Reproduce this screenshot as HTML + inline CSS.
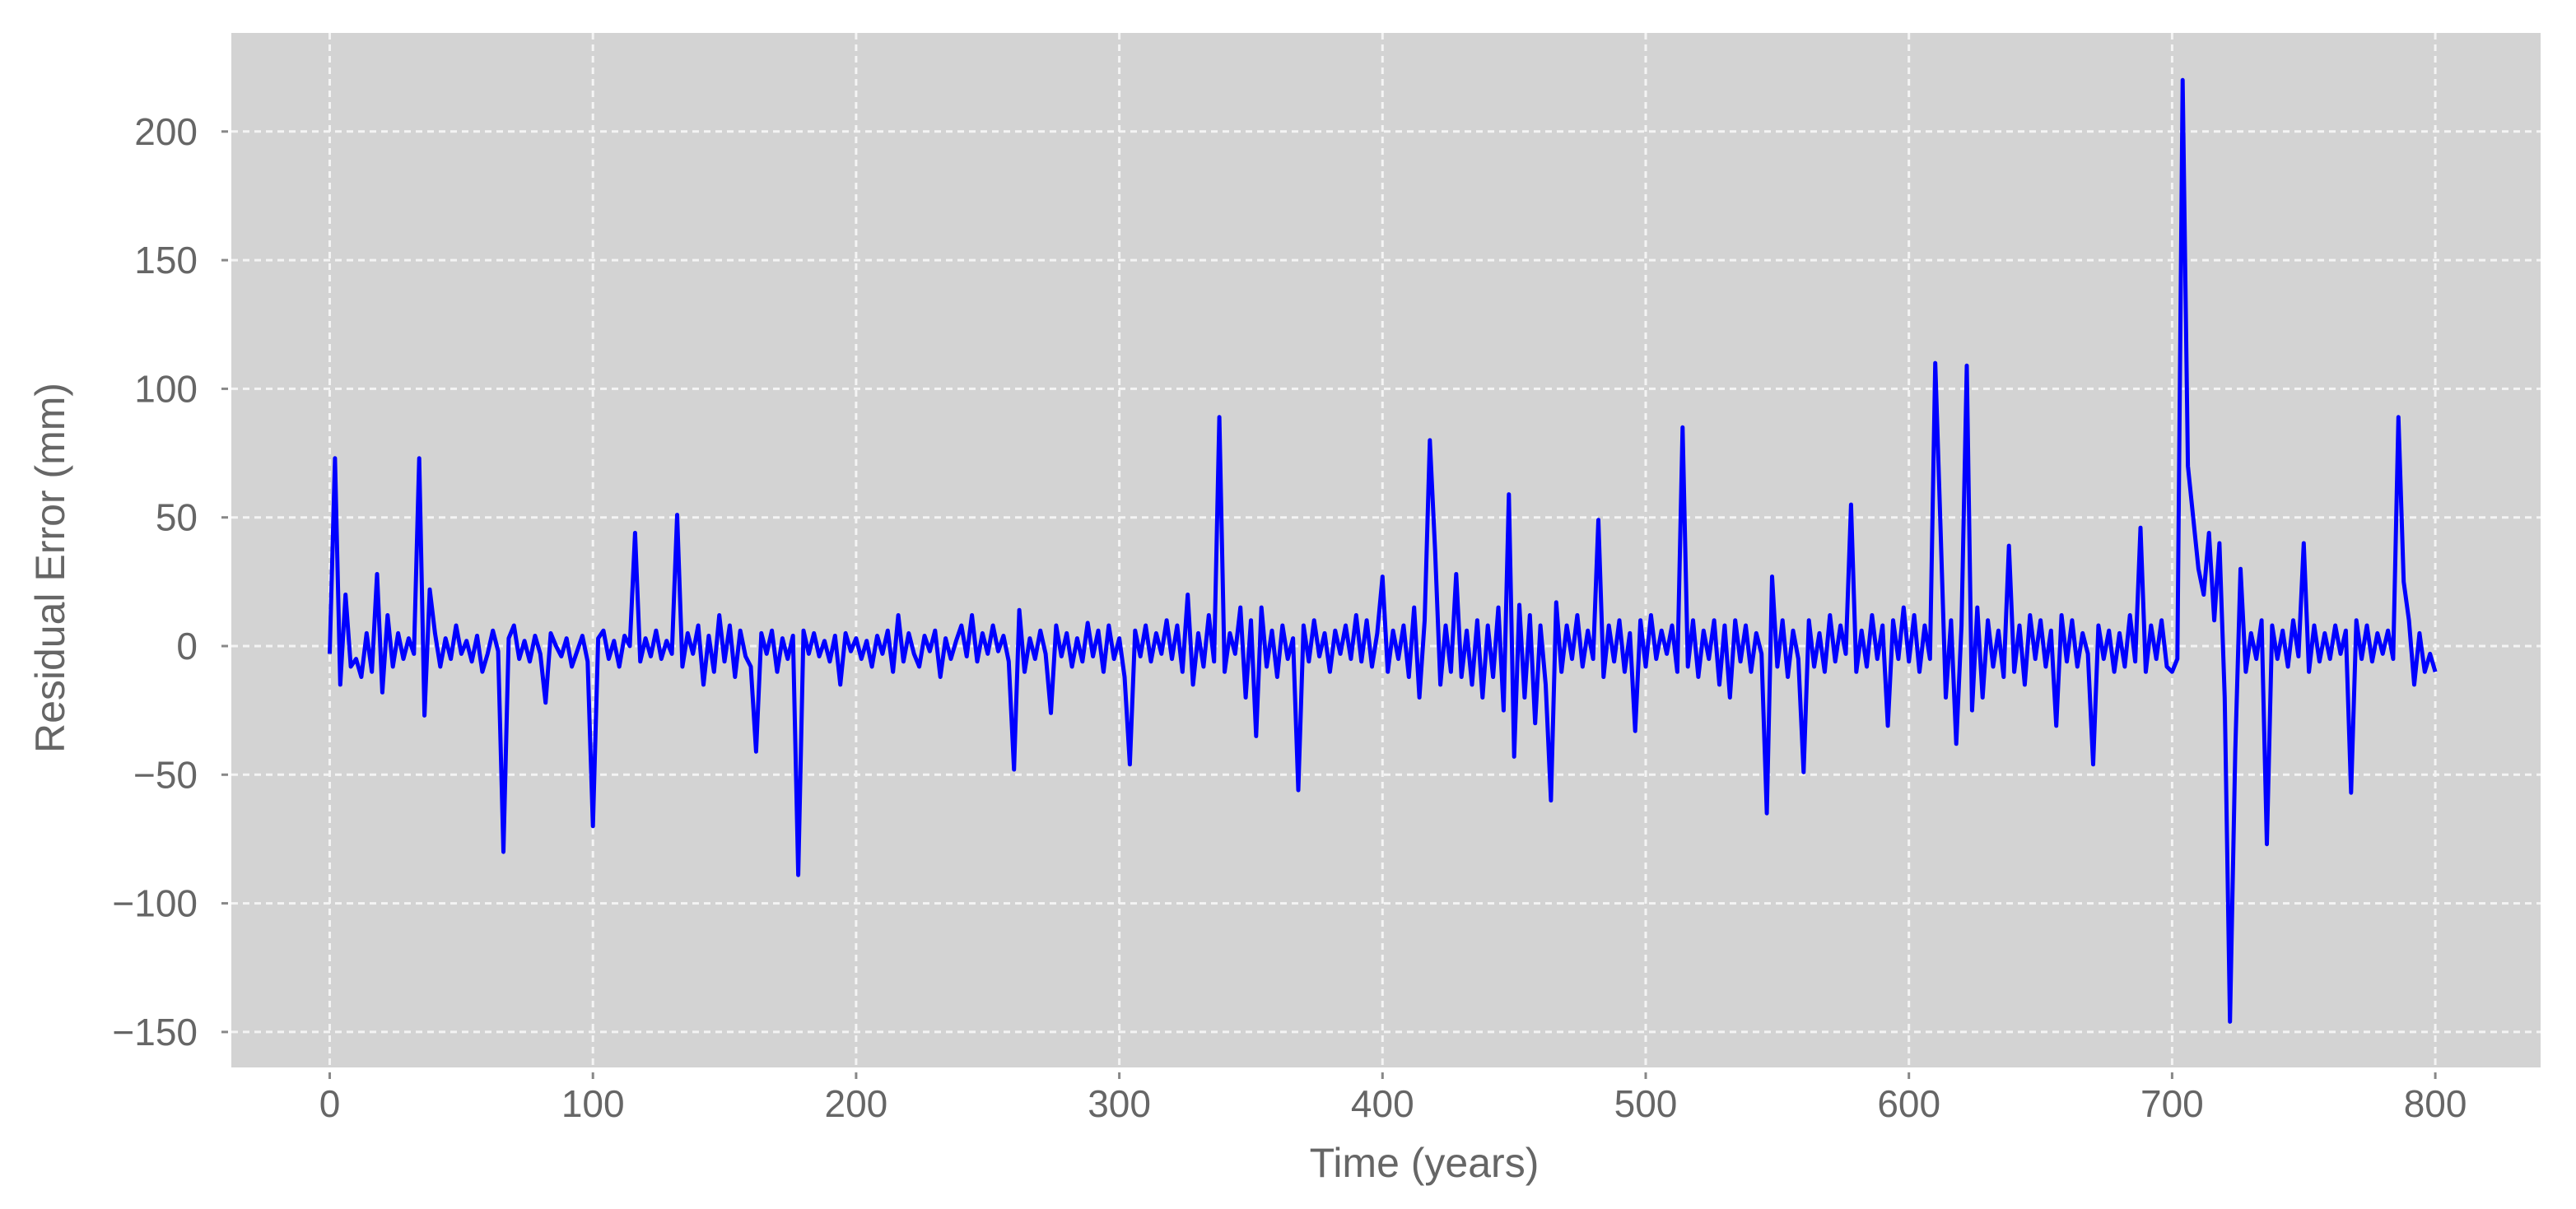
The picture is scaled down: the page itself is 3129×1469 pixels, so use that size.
<!DOCTYPE html>
<html><head><meta charset="utf-8"><style>
html,body{margin:0;padding:0;background:#fff;}
svg{display:block;}
text{font-family:"Liberation Sans",sans-serif;fill:#666;}
</style></head><body>
<svg id="chart" width="3129" height="1469" viewBox="0 0 3129 1469" xmlns="http://www.w3.org/2000/svg">
<rect x="281" y="40" width="2805" height="1257" fill="#d3d3d3"/>
<g id="grid"></g>
<g id="ticks"></g>
<path id="series" fill="none" stroke="#0000ff" stroke-width="5" stroke-linejoin="round"/>
<text x="1730" y="1430" font-size="50" text-anchor="middle">Time (years)</text>
<text transform="translate(78,690) rotate(-90)" font-size="50" text-anchor="middle">Residual Error (mm)</text>
</svg>
<script>
const xTicks = [0,100,200,300,400,500,600,700,800];
const yTicks = [-150,-100,-50,0,50,100,150,200];
const yTickLabels = ["\u2212150","\u2212100","\u221250","0","50","100","150","200"];
const yearStep = 2;
const residuals = [
-3,73,-15,20,-8,-5,-12,5,-10,28,-18,12,-8,5,-5,3,-3,73,-27,22,
5,-8,3,-5,8,-3,2,-6,4,-10,-3,6,-2,-80,3,8,-5,2,-6,4,
-3,-22,5,0,-4,3,-8,-2,4,-6,-70,3,6,-5,2,-8,4,0,44,-6,
3,-4,6,-5,2,-3,51,-8,5,-3,8,-15,4,-10,12,-6,8,-12,6,-4,
-8,-41,5,-3,6,-10,3,-5,4,-89,6,-3,5,-4,2,-6,4,-15,5,-2,
3,-5,2,-8,4,-3,6,-10,12,-6,5,-3,-8,4,-2,6,-12,3,-5,2,
8,-4,12,-6,5,-3,8,-2,4,-6,-48,14,-10,3,-5,6,-3,-26,8,-4,
5,-8,3,-6,9,-4,6,-10,8,-5,3,-12,-46,6,-4,8,-6,5,-3,10,
-5,8,-10,20,-15,5,-8,12,-6,89,-10,5,-3,15,-20,10,-35,15,-8,6,
-12,8,-5,3,-56,8,-6,10,-4,5,-10,6,-3,8,-5,12,-6,10,-8,5,
27,-10,6,-5,8,-12,15,-20,10,80,37,-15,8,-10,28,-12,6,-15,10,-20,
8,-12,15,-25,59,-43,16,-20,12,-30,8,-15,-60,17,-10,8,-5,12,-8,6,
-5,49,-12,8,-6,10,-10,5,-33,10,-8,12,-5,6,-3,8,-10,85,-8,10,
-12,6,-5,10,-15,8,-20,10,-6,8,-10,5,-3,-65,27,-8,10,-12,6,-5,
-49,10,-8,5,-10,12,-6,8,-3,55,-10,6,-8,12,-5,8,-31,10,-5,15,
-6,12,-10,8,-5,110,46,-20,10,-38,8,109,-25,15,-20,10,-8,6,-12,39,
-10,8,-15,12,-5,10,-8,6,-31,12,-6,10,-8,5,-3,-46,8,-5,6,-10,
5,-8,12,-6,46,-10,8,-5,10,-8,-10,-5,220,70,50,30,20,44,10,40,
-20,-146,-41,30,-10,5,-5,10,-77,8,-5,6,-8,10,-4,40,-10,8,-6,5,
-5,8,-3,6,-57,10,-5,8,-6,5,-3,6,-5,89,25,10,-15,5,-10,-3,
-10
];
const NS = "http://www.w3.org/2000/svg";
const PL = 281, PR = 3086, PT = 40, PB = 1297;
function xs(v){ return 400.5 + v * 3.197; }
function ys(v){ return 785 - v * 3.126; }
const grid = document.getElementById('grid');
const ticks = document.getElementById('ticks');
function mk(tag, attrs, parent){ const e = document.createElementNS(NS, tag); for (const k in attrs) e.setAttribute(k, attrs[k]); parent.appendChild(e); return e; }
xTicks.forEach(function(t){
  const x = xs(t);
  const g = mk('line',{x1:x,x2:x,y1:PT,y2:PB,stroke:'#f4f4f4','stroke-width':3,'stroke-dasharray':'8 6'},grid);
  
  
  const tk = mk('line',{x1:x,x2:x,y1:PB+6,y2:PB+14,stroke:'#888','stroke-width':3},ticks);
  
  
  const lb = mk('text',{x:x,y:1357,'font-size':46,'text-anchor':'middle'},ticks);
  lb.textContent = String(t);
  
  
});
yTicks.forEach(function(t,i){
  const y = ys(t);
  const g = mk('line',{x1:PL,x2:PR,y1:y,y2:y,stroke:'#f4f4f4','stroke-width':3,'stroke-dasharray':'8 6'},grid);
  
  
  const tk = mk('line',{x1:PL-12,x2:PL-4,y1:y,y2:y,stroke:'#888','stroke-width':3},ticks);
  
  
  const lb = mk('text',{x:240,y:y+16,'font-size':46,'text-anchor':'end'},ticks);
  lb.textContent = yTickLabels[i];
  
  
});
let d = '';
residuals.forEach(function(v,i){
  d += (i ? 'L' : 'M') + xs(i * yearStep).toFixed(1) + ' ' + ys(v).toFixed(1);
});
document.getElementById('series').setAttribute('d', d);
</script>
</body></html>
